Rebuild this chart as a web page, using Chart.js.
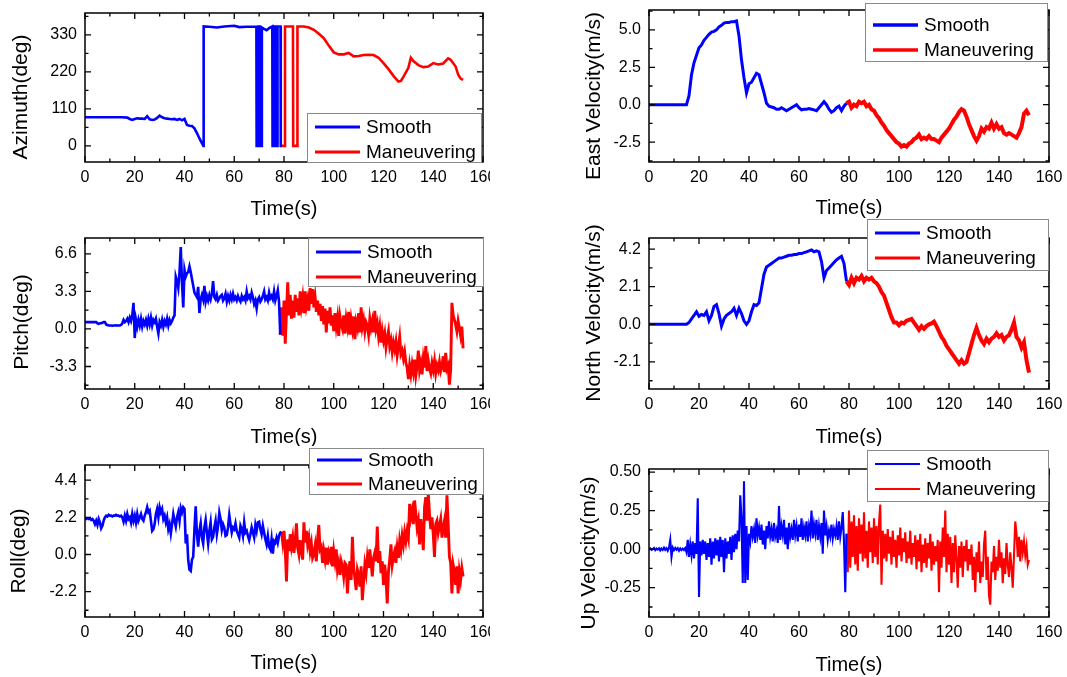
<!DOCTYPE html>
<html>
<head>
<meta charset="utf-8">
<script src="https://cdn.jsdelivr.net/npm/chart.js@4.4.1/dist/chart.umd.min.js"></script>
<style>
  body { margin: 0; background: #fff; width: 1067px; height: 677px; position: relative; overflow: hidden; }
  canvas { position: absolute; }
</style>
</head>
<body>
<canvas id="azimuthChart"></canvas>
<canvas id="eastChart"></canvas>
<canvas id="pitchChart"></canvas>
<canvas id="northChart"></canvas>
<canvas id="rollChart"></canvas>
<canvas id="upChart"></canvas>
<script>
// shared time axis
const timeTicks = [0, 20, 40, 60, 80, 100, 120, 140, 160];

// azimuth (deg) - wraps between 0 and 360, so it keeps explicit times
const azSmoothT = [0,5,10,15,17,18,19,20,21,22,23,24,25,26,27,28,29,30,31,32,33,34,35,36,37,38,39,40,41,42,43,44,45,46,47,47.6,47.7,50,53,56,60,62,65,68.9,69.0,69.6,69.7,70.4,70.5,71.0,71.1,72,73,74,75.3,75.4,76.1,76.2,76.7,76.8,77.3,77.4,78.6,78.7,79.2];
const azSmooth = [85,85,85,85,84,80,77,80,82,81,81,80,88,79,77,78,83,90,85,82,81,80,79,80,77,80,76,80,62,60,59,52,38,22,8,0,355,354,352,355,357,353,354,354,0,0,355,355,0,0,352,348,344,350,355,0,0,355,355,0,0,355,355,0,0];
const azManeuverT = [79.2,80.3,80.4,83.6,83.7,85.3,85.4,88,90,92,94,96,98,100,102,104,106,108,110,112,114,116,118,120,122,124,126,127,128,130,131,132,134,136,138,140,142,144,146,147,149,150,151,152];
const azManeuver = [0,0,355,355,0,0,355,355,352,345,333,320,298,278,272,272,276,266,267,270,271,270,262,246,228,208,191,193,205,232,262,252,240,234,236,246,242,245,260,256,236,212,200,196];
const azTicks = [0, 110, 220, 330];

// east velocity (m/s), one sample per second
const eastSmooth = [0,0,0,0,0,0,0,0,0,0,0,0,0,0,0,0,
  0.6,2.0,2.8,3.3,3.8,4.0,4.3,4.5,4.7,4.85,4.9,5.0,5.2,5.3,5.45,5.5,5.5,5.55,5.55,5.6,
  4.6,3.0,1.8,0.8,1.4,1.5,1.8,2.1,2.0,1.4,0.8,0.1,-0.1,-0.15,-0.2,-0.3,-0.3,-0.2,-0.3,-0.4,
  -0.3,-0.2,-0.1,0.0,-0.2,-0.35,-0.3,-0.3,-0.25,-0.3,-0.35,-0.4,-0.2,0.0,0.2,0.0,-0.3,-0.5,
  -0.4,-0.2,-0.1,-0.4,-0.1,0.1];
const eastManeuver = [0.1,0.2,-0.2,0.0,-0.1,0.2,0.1,0.2,-0.1,0.0,-0.3,-0.4,-0.7,-0.9,-1.2,-1.4,
  -1.7,-1.9,-2.1,-2.3,-2.5,-2.6,-2.8,-2.7,-2.8,-2.6,-2.5,-2.3,-2.2,-2.0,-2.3,-2.2,-2.3,-2.1,
  -2.3,-2.3,-2.4,-2.5,-2.2,-2.0,-1.8,-1.6,-1.3,-1.0,-0.8,-0.5,-0.3,-0.4,-0.8,-1.3,-1.7,-2.1,
  -2.4,-2.1,-1.6,-1.8,-1.5,-1.6,-1.2,-1.6,-1.3,-1.6,-1.5,-1.9,-2.0,-1.9,-2.0,-2.1,-2.2,-1.9,
  -1.5,-0.6,-0.4,-0.7];
const eastTicks = [-2.5, 0, 2.5, 5.0];

// pitch (deg), two samples per second
const pitchSmooth = [0.6,0.6,0.6,0.6,0.6,0.6,0.6,0.6,0.6,0.6,
  0.5,0.45,0.5,0.5,0.55,0.6, 0.6,0.4,0.35,0.3,
  0.3,0.3,0.28,0.3,0.3,0.32,0.3,0.3,0.3,0.35,
  0.5,0.8,0.6,0.7,0.9,0.6,1.0,0.7,1.2,2.3,
  -0.8,0.8,0.2,0.8,0.3,0.9,0.2,0.7,0.4,0.8,
  0.3,0.9,0.4,1.0,0.3,0.8,0.6,0.9,0.2,-0.4,
  0.6,0.3,0.8,0.2,0.7,0.4,0.9,0.3,0.8,0.5,
  0.7,1.0,1.2,4.6,4.2,3.6,5.0,7.2,4.0,1.9,
  5.2,4.6,4.9,5.0,5.5,5.0,4.4,3.8,3.2,3.0,
  2.8,3.7,1.4,2.6,3.0,2.6,3.8,2.4,2.9,2.5,
  3.0,2.6,3.1,4.2,2.8,2.6,3.0,2.5,2.7,2.9,
  3.0,2.5,2.7,3.1,2.4,2.9,2.5,3.0,2.6,3.1,
  2.6,2.8,2.5,2.9,2.6,2.4,2.9,2.6,2.8,2.5,
  3.3,2.7,2.9,2.6,3.2,2.8,2.2,2.5,1.8,2.6,
  2.8,2.4,2.6,2.9,3.3,2.6,2.8,2.5,3.2,2.7,
  2.9,2.6,3.3,2.5,2.9,3.4,2.4,-0.5];
const pitchManeuver = [-0.5,1.9,-0.6,
  2.5,-1.3,1.5,4.1,1.2,3.0,0.9,2.5,1.0,3.0,
  1.5,2.7,1.2,3.3,2.0,2.8,1.4,3.3,2.0,2.6,
  1.6,3.6,2.2,3.5,1.9,2.8,1.5,2.5,1.2,2.2,
  0.7,2.0,0.4,1.8,-0.3,1.6,0.5,1.9,0.3,1.2,
  -0.2,1.4,0.2,1.0,-0.6,1.1,0.4,0.0,1.2,-0.4,
  0.9,0.2,1.5,-0.5,0.8,0.0,1.1,-0.9,0.6,0.1,
  1.4,-0.3,1.9,0.2,0.8,-0.2,0.6,0.3,-0.5,0.9,
  0.1,0.7,-0.3,1.6,0.0,0.5,-0.6,0.2,-1.2,-0.2,
  -1.0,-0.4,-1.6,-0.8,-0.2,-1.5,-1.0,-2.0,-1.2,-1.8,
  -1.1,-2.3,-1.5,-0.7,-2.2,-1.9,-2.6,-2.0,-3.0,-3.4,
  -4.4,-3.2,-4.0,-3.1,-3.8,-2.7,-4.1,-3.3,-1.9,-3.6,
  -3.0,-4.0,-2.6,-3.4,-1.5,-3.7,-2.8,-3.5,-3.9,-3.0,
  -3.6,-2.8,-3.9,-3.2,-3.6,-2.9,-3.7,-3.3,-2.4,-3.8,
  -2.1,-3.5,-3.2,-4.9,-3.6,2.3,1.2,0.8,0.4,-0.2,
  0.7,0.1,-0.6,0.2,-1.7];
const pitchTicks = [-3.3, 0, 3.3, 6.6];

// north velocity (m/s), one sample per second
const northSmooth = [0,0,0,0,0.01,0,0,0,0,0.01,0,0,0,0,0,0,
  0.1,0.3,0.5,0.7,0.45,0.55,0.5,0.7,0.2,0.5,1.0,1.1,0.6,-0.1,0.3,0.5,0.6,0.7,0.9,0.5,
  0.9,0.6,0.2,0.0,0.2,0.7,1.1,1.05,1.2,2.0,2.8,3.2,3.3,3.4,3.5,3.6,3.7,3.7,3.75,3.8,
  3.85,3.85,3.9,3.9,3.95,3.95,4.0,4.05,4.1,4.15,4.05,4.1,4.05,3.5,2.6,3.0,3.15,3.3,3.45,3.6,
  3.7,3.8,3.4,2.4];
const northManeuver = [2.4,2.2,2.6,2.3,2.6,2.5,2.7,2.4,2.6,2.5,2.6,2.4,2.3,2.1,1.8,1.6,
  1.2,0.8,0.4,0.1,0.1,-0.05,0.1,0.05,0.2,0.25,0.3,0.1,-0.1,-0.3,-0.1,-0.25,-0.1,0.0,
  0.05,0.15,-0.1,-0.4,-0.7,-0.9,-1.2,-1.4,-1.6,-1.8,-2.0,-2.2,-2.0,-2.2,-2.1,-1.6,-1.1,
  -0.6,-0.2,-0.6,-0.9,-1.1,-0.8,-1.0,-0.8,-0.7,-0.5,-0.7,-0.6,-0.9,-0.7,-0.6,-0.3,0.1,
  -0.7,-0.9,-1.3,-1.0,-2.0,-2.7];
const northTicks = [-2.1, 0, 2.1, 4.2];

// roll (deg), two samples per second
const rollSmooth = [2.15,2.1,2.15,2.1,2.15,2.05,2.1,2.0,1.8,2.0,
  1.75,2.1,1.9,1.55,1.7,2.0,2.2,2.3,2.25,2.35,
  2.3,2.3,2.25,2.3,2.3,2.35,2.3,2.3,2.25,2.3,
  2.2,1.95,2.3,2.0,2.4,2.1,2.2,1.9,2.4,2.0,
  2.3,1.9,2.4,2.0,2.2,2.4,2.1,2.0,2.3,2.5,
  2.8,2.5,2.6,2.0,1.4,1.5,1.8,2.4,2.7,2.2,
  2.8,2.5,2.7,2.1,2.3,1.9,2.2,1.5,1.8,1.25,
  1.8,2.4,2.0,1.65,2.2,2.5,2.0,2.75,2.5,2.8,
  2.7,0.65,1.2,-0.34,-0.9,-0.97,-0.3,-0.14,1.5,2.85,
  1.2,0.46,1.4,1.85,1.0,0.65,1.6,2.04,1.3,0.65,
  1.4,1.9,0.9,1.05,1.6,2.0,1.2,1.7,2.48,2.1,
  1.45,1.8,1.6,1.1,1.15,1.6,2.34,1.8,1.3,1.6,
  1.5,1.85,1.4,1.2,1.0,1.7,1.5,1.1,1.9,1.3,
  1.4,1.1,0.85,1.2,1.6,1.3,1.0,1.75,1.4,1.9,
  1.94,1.5,1.2,1.7,1.3,0.9,0.6,1.1,0.46,0.3,
  0.9,0.05,0.8,0.7,1.0,0.7,1.1,1.3,1.35];
const rollManeuver = [1.35,0.7,
  1.4,0.3,-1.6,0.9,0.2,1.2,0.5,1.0,0.1,0.8,
  1.85,0.4,0.0,0.85,0.2,-0.3,1.9,0.7,1.4,0.6,
  1.0,0.2,0.65,-0.2,0.0,0.5,-0.4,0.9,1.75,0.3,
  0.45,-0.5,0.2,-0.3,0.4,-0.6,0.1,-0.2,0.45,-0.7,
  0.2,-0.4,0.3,-0.9,-0.5,-1.2,-0.4,-0.7,-1.3,-0.5,
  -0.6,-2.3,-1.0,-0.4,-1.5,1.05,-0.8,-1.4,-2.1,-0.9,
  -1.2,-1.9,-0.7,-2.7,-1.6,-0.6,-1.1,-0.2,-0.8,0.3,
  -0.5,-1.3,-0.2,0.1,-0.4,1.65,-0.5,0.2,-1.1,-0.4,
  -1.8,-0.6,-1.4,-2.9,-1.0,-0.3,0.6,-0.6,-0.1,0.2,
  -0.5,0.4,-0.2,0.8,0.3,1.1,0.6,1.3,0.8,1.4,
  1.0,3.0,2.2,2.6,1.8,3.2,2.4,1.6,2.0,0.6,
  2.1,1.4,0.26,2.8,3.4,2.0,3.6,2.4,1.5,2.2,
  1.2,-0.14,1.8,2.0,1.3,1.7,2.1,1.0,1.6,2.0,
  1.0,3.5,1.8,-0.14,-0.5,-2.3,-0.6,-1.0,-1.8,-0.7,
  -2.3,-1.0,-1.5,-0.8,-1.3];
const rollTicks = [-2.2, 0, 2.2, 4.4];

// up velocity (m/s), two samples per second
const upSmooth = [0.0,0.005,-0.005,0.0,0.008,-0.006,0.004,-0.003,0.006,-0.008,
  0.004,-0.005,0.01,-0.004,0.006,-0.01,0.008,0.06,-0.05,0.01,
  -0.006,0.008,-0.004,0.006,-0.01,0.005,-0.006,0.004,-0.005,0.007,
  -0.02,0.06,-0.05,0.03,-0.04,0.05,-0.06,0.04,-0.03,0.33,
  -0.31,0.05,-0.04,0.06,-0.03,0.05,-0.07,0.04,-0.05,0.07,
  -0.10,0.05,-0.06,0.07,-0.04,0.06,-0.08,0.08,-0.05,0.06,
  -0.15,0.07,-0.06,0.05,-0.03,0.08,-0.07,0.09,-0.02,0.10,
  0.0,0.12,0.05,0.35,0.20,-0.22,0.44,-0.22,0.15,-0.20,
  0.10,0.05,0.15,0.08,0.13,0.04,0.20,0.09,0.14,0.06,
  0.16,0.03,0.12,0.0,0.15,0.07,0.18,0.08,0.13,0.05,
  0.17,0.08,0.12,0.04,0.28,0.06,0.15,0.09,0.19,0.03,
  0.14,0.0,0.17,0.08,0.13,0.06,0.19,0.09,0.15,0.05,
  0.16,0.08,0.20,0.06,0.14,0.09,0.18,0.05,0.15,0.10,
  0.25,0.07,0.16,0.10,0.19,0.06,0.15,0.08,0.17,-0.03,
  0.25,0.09,0.15,0.06,0.12,0.08,0.16,0.07,0.13,0.09,
  0.15,0.06,0.18,0.08,0.14,0.24,0.05,-0.28,0.10];
const upManeuver = [0.10,-0.15,
  0.25,-0.12,0.18,-0.05,0.22,-0.10,0.15,-0.14,0.20,-0.03,
  0.16,-0.08,0.24,-0.06,0.12,-0.12,0.18,-0.02,0.14,-0.09,
  0.20,-0.05,0.15,-0.10,0.17,0.29,-0.23,0.12,-0.06,0.10,
  -0.08,0.13,-0.03,0.08,-0.10,0.12,-0.05,0.06,-0.12,0.09,
  -0.04,0.14,-0.08,0.07,-0.02,0.11,-0.09,0.05,-0.06,0.12,
  -0.10,0.04,-0.05,0.09,-0.13,0.06,-0.08,0.10,-0.15,0.03,
  -0.09,0.07,-0.12,0.04,-0.06,0.10,-0.14,0.05,-0.10,0.02,
  -0.08,0.06,-0.28,0.05,-0.12,0.14,-0.05,0.25,-0.15,0.10,
  -0.10,0.08,-0.22,0.04,-0.15,0.09,-0.06,-0.25,0.02,-0.12,
  0.05,-0.18,0.02,-0.08,0.06,-0.14,0.00,-0.10,0.03,-0.20,
  -0.05,-0.28,-0.02,-0.15,0.05,-0.22,-0.08,-0.18,0.03,0.12,
  -0.20,-0.05,-0.30,-0.36,-0.08,-0.15,0.02,-0.20,-0.05,-0.14,
  0.06,-0.12,-0.02,-0.22,-0.06,-0.16,0.04,-0.10,-0.18,-0.02,
  -0.12,-0.25,-0.04,0.18,0.10,-0.05,0.08,-0.08,0.06,-0.02,
  0.05,-0.04,0.02,-0.10,-0.07];
const upTicks = [-0.25, 0, 0.25, 0.50];

const FONT = '"Liberation Sans", Arial, sans-serif';

function pairPoints(times, values) {
  return values.map((v, i) => ({ x: times[i], y: v }));
}
function stepPoints(start, step, values) {
  return values.map((v, i) => ({ x: start + i * step, y: v }));
}

// box frame with inward major/minor ticks on all four sides, y title and the legend box
const framePlugin = {
  id: 'frame',
  afterDraw(chart, args, opts) {
    const { ctx, chartArea: a, scales: { x, y } } = chart;
    ctx.save();
    ctx.strokeStyle = '#000';
    ctx.lineWidth = 1.5;
    ctx.strokeRect(a.left, a.top, a.right - a.left, a.bottom - a.top);

    ctx.lineWidth = 1.3;
    ctx.beginPath();
    for (let v = 0; v <= 160; v += 10) {
      const px = x.getPixelForValue(v);
      const len = v % 20 === 0 ? 6 : 3.5;
      ctx.moveTo(px, a.bottom); ctx.lineTo(px, a.bottom - len);
      ctx.moveTo(px, a.top); ctx.lineTo(px, a.top + len);
    }
    const half = opts.yStep / 2;
    for (let k = Math.ceil(y.min / half - 1e-9); k * half <= y.max + 1e-9; k++) {
      const py = y.getPixelForValue(k * half);
      const len = k % 2 === 0 ? 6 : 3.5;
      ctx.moveTo(a.left, py); ctx.lineTo(a.left + len, py);
      ctx.moveTo(a.right, py); ctx.lineTo(a.right - len, py);
    }
    ctx.stroke();

    // rotated y title
    ctx.save();
    ctx.translate(opts.yTitle.x, opts.yTitle.y);
    ctx.rotate(-Math.PI / 2);
    ctx.font = '21px ' + FONT;
    ctx.fillStyle = '#000';
    ctx.textAlign = 'center';
    ctx.textBaseline = 'middle';
    ctx.fillText(opts.yTitle.text, 0, 0);
    ctx.restore();

    // legend
    const lg = opts.legend;
    ctx.fillStyle = '#fff';
    ctx.fillRect(lg.box[0], lg.box[1], lg.box[2] - lg.box[0], lg.box[3] - lg.box[1]);
    ctx.strokeStyle = '#8a8a8a';
    ctx.lineWidth = 1;
    ctx.strokeRect(lg.box[0] + 0.5, lg.box[1] + 0.5, lg.box[2] - lg.box[0], lg.box[3] - lg.box[1]);
    ctx.font = '19px ' + FONT;
    ctx.textBaseline = 'middle';
    chart.data.datasets.forEach((ds, i) => {
      const ry = lg.rows[i];
      ctx.strokeStyle = ds.borderColor;
      ctx.lineWidth = lg.lineWidth;
      ctx.beginPath();
      ctx.moveTo(lg.box[0] + 8, ry);
      ctx.lineTo(lg.box[0] + 53, ry);
      ctx.stroke();
      ctx.fillStyle = '#000';
      ctx.fillText(ds.label, lg.box[0] + 59, ry + 1);
    });
    ctx.restore();
  }
};

const panels = [
  { id: 'azimuthChart', canvas: [0, 0, 490, 222], plot: [85, 13, 483, 162],
    yMin: -48, yMax: 395, yTicks: azTicks, yStep: 110, decimals: 0,
    yTitle: 'Azimuth(deg)', yTitleAt: [21, 97], xTitleY: 209, width: 2.6, redWidth: 2.6,
    smooth: pairPoints(azSmoothT, azSmooth), maneuvering: pairPoints(azManeuverT, azManeuver),
    legend: { box: [307, 113, 481, 162], rows: [127, 152], lineWidth: 3 } },
  { id: 'eastChart', canvas: [560, 0, 507, 222], plot: [649, 10, 1049, 162],
    yMin: -3.83, yMax: 6.33, yTicks: eastTicks, yStep: 2.5, decimals: 1,
    yTitle: 'East Velocity(m/s)', yTitleAt: [594, 96], xTitleY: 208, width: 3, redWidth: 4,
    smooth: stepPoints(0, 1, eastSmooth), maneuvering: stepPoints(79, 1, eastManeuver),
    legend: { box: [865, 3, 1047, 61], rows: [25, 50], lineWidth: 3.5 } },
  { id: 'pitchChart', canvas: [0, 222, 490, 224], plot: [85, 238, 483, 389],
    yMin: -5.28, yMax: 8.0, yTicks: pitchTicks, yStep: 3.3, decimals: 1,
    yTitle: 'Pitch(deg)', yTitleAt: [22, 322], xTitleY: 437, width: 2.6, redWidth: 2.9,
    smooth: stepPoints(0, 0.5, pitchSmooth), maneuvering: stepPoints(78.5, 0.5, pitchManeuver),
    legend: { box: [308, 238, 483, 286], rows: [252, 277], lineWidth: 3 } },
  { id: 'northChart', canvas: [560, 212, 507, 234], plot: [649, 238, 1049, 389],
    yMin: -3.61, yMax: 4.82, yTicks: northTicks, yStep: 2.1, decimals: 1,
    yTitle: 'North Velocity(m/s)', yTitleAt: [594, 313], xTitleY: 437, width: 3, redWidth: 4,
    smooth: stepPoints(0, 1, northSmooth), maneuvering: stepPoints(79, 1, northManeuver),
    legend: { box: [867, 219, 1048, 270], rows: [233, 258], lineWidth: 3 } },
  { id: 'rollChart', canvas: [0, 444, 490, 233], plot: [85, 465, 483, 617],
    yMin: -3.7, yMax: 5.3, yTicks: rollTicks, yStep: 2.2, decimals: 1,
    yTitle: 'Roll(deg)', yTitleAt: [19, 551], xTitleY: 663, width: 2.6, redWidth: 2.9,
    smooth: stepPoints(0, 0.5, rollSmooth), maneuvering: stepPoints(79, 0.5, rollManeuver),
    legend: { box: [309, 448, 483, 494], rows: [460, 484], lineWidth: 3 } },
  { id: 'upChart', canvas: [560, 444, 507, 233], plot: [649, 469, 1049, 617],
    yMin: -0.44, yMax: 0.52, yTicks: upTicks, yStep: 0.25, decimals: 2,
    yTitle: 'Up Velocity(m/s)', yTitleAt: [589, 553], xTitleY: 665, width: 2.1, redWidth: 2.1,
    smooth: stepPoints(0, 0.5, upSmooth), maneuvering: stepPoints(79, 0.5, upManeuver),
    legend: { box: [867, 450, 1048, 501], rows: [464, 489], lineWidth: 2 } }
];

function makePanel(p) {
  const el = document.getElementById(p.id);
  const [cl, ct, cw, ch] = p.canvas;
  const [pl, pt, pr, pb] = p.plot;
  el.width = cw;
  el.height = ch;
  el.style.left = cl + 'px';
  el.style.top = ct + 'px';
  const tickFont = { family: FONT, size: 16 };
  const titleFont = { family: FONT, size: 20 };
  const legend = {
    box: [p.legend.box[0] - cl, p.legend.box[1] - ct, p.legend.box[2] - cl, p.legend.box[3] - ct],
    rows: p.legend.rows.map(r => r - ct),
    lineWidth: p.legend.lineWidth
  };
  const yTitle = { text: p.yTitle, x: p.yTitleAt[0] - cl, y: p.yTitleAt[1] - ct };
  new Chart(el, {
    type: 'line',
    data: {
      datasets: [
        { label: 'Smooth', data: p.smooth, borderColor: '#0000ff', borderWidth: p.width,
          pointRadius: 0, tension: 0, fill: false },
        { label: 'Maneuvering', data: p.maneuvering, borderColor: '#ff0000', borderWidth: p.redWidth,
          pointRadius: 0, tension: 0, fill: false }
      ]
    },
    options: {
      responsive: false,
      animation: false,
      events: [],
      layout: { padding: { left: 0, top: pt - ct, right: cl + cw - pr, bottom: 0 } },
      plugins: {
        legend: { display: false },
        tooltip: { enabled: false },
        frame: { yStep: p.yStep, legend, yTitle }
      },
      scales: {
        x: {
          type: 'linear', min: 0, max: 160,
          grid: { display: false, drawTicks: false },
          border: { display: false },
          afterBuildTicks: s => { s.ticks = timeTicks.map(v => ({ value: v })); },
          afterFit: s => { s.height = ct + ch - pb; s.paddingLeft = 0; s.paddingRight = 0; },
          ticks: { font: tickFont, color: '#000', padding: 6, maxRotation: 0, autoSkip: false,
                   callback: v => String(v) },
          title: { display: true, text: 'Time(s)', font: titleFont, color: '#000',
                   padding: { top: 0, bottom: ch - (p.xTitleY - ct) - 12 } }
        },
        y: {
          type: 'linear', min: p.yMin, max: p.yMax,
          grid: { display: false, drawTicks: false },
          border: { display: false },
          afterBuildTicks: s => { s.ticks = p.yTicks.map(v => ({ value: v })); },
          afterFit: s => { s.width = pl - cl; s.paddingTop = 0; s.paddingBottom = 0; },
          ticks: { font: tickFont, color: '#000', padding: 8, autoSkip: false,
                   callback: v => Number(v).toFixed(p.decimals) },
          title: { display: false }
        }
      }
    },
    plugins: [framePlugin]
  });
}

panels.forEach(makePanel);
</script>
</body>
</html>
